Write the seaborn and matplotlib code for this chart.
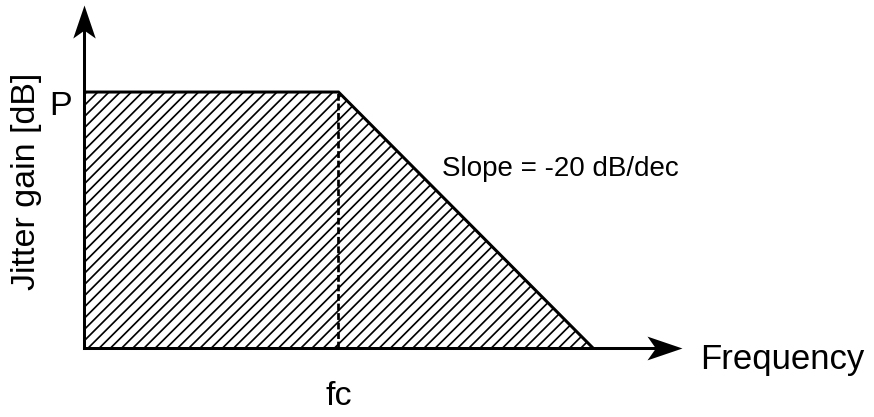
import matplotlib
matplotlib.use("Agg")
import matplotlib.pyplot as plt
import numpy as np
import pandas as pd
import seaborn as sns
from matplotlib.collections import LineCollection
from matplotlib.path import Path
from matplotlib.transforms import Affine2D

# Jitter transfer asymptote: flat gain P up to the corner fc, then -20 dB/decade
log_freq = [0.0, 1.0, 2.0]        # decades above the lowest frequency shown
gain_db = [20.0, 20.0, 0.0]       # asymptotic jitter gain
fc_decade = 1.0
p_db = 20.0

y_label = "Jitter gain [dB]"
x_label = "Frequency"
p_label = "P"
fc_label = "fc"
slope_label = "Slope = -20 dB/dec"

sns.set_theme(style="white")
plt.rcParams["font.family"] = ["Liberation Sans", "DejaVu Sans"]

DPI = 70
fig = plt.figure(figsize=(874 / DPI, 417 / DPI), dpi=DPI)
fig.patch.set_facecolor("white")
ax = fig.add_axes([84 / 874, 69 / 417, 598 / 874, 343 / 417])
x_max, y_max = 2.35, 26.8
ax.set_xlim(0, x_max)
ax.set_ylim(0, y_max)
ax.axis("off")

df = pd.DataFrame({"log_freq": log_freq, "gain_db": gain_db})

# area under the response
area = ax.fill_between(df["log_freq"], df["gain_db"], 0, facecolor="white",
                       linewidth=0, zorder=1)

# 45-degree hatching (in screen space), clipped to the area
origin = ax.transData.transform((0, 0))
unit = ax.transData.transform((1, 1))
sx, sy = unit[0] - origin[0], unit[1] - origin[1]
hatch_step_px = 11.2
run = y_max * sy / sx
starts = np.arange(-run, max(log_freq) + hatch_step_px / sx, hatch_step_px / sx)
hatch = LineCollection([[(s, 0), (s + run, y_max)] for s in starts],
                       colors="black", linewidths=1.75, zorder=2)
ax.add_collection(hatch)
hatch.set_clip_path(area.get_paths()[0], ax.transData)

# response outline
sns.lineplot(data=df, x="log_freq", y="gain_db", sort=False, color="black",
             linewidth=3.1, ax=ax, zorder=3)
ax.lines[-1].set_solid_joinstyle("miter")

# corner frequency marker
ax.plot([fc_decade, fc_decade], [0, p_db], color="black", linewidth=2.8,
        linestyle=(0, (2.5, 1.0)), zorder=2.5)

# axes with arrow heads
ax.plot([0, x_max - 0.08], [0, 0], color="black", linewidth=3.1,
        solid_capstyle="projecting", clip_on=False, zorder=4)
ax.plot([0, 0], [0, y_max - 1.6], color="black", linewidth=3.1,
        solid_capstyle="projecting", clip_on=False, zorder=4)

head = Path([(0, 0), (-1, 0.34), (-0.76, 0), (-1, -0.34), (0, 0)],
            [Path.MOVETO, Path.LINETO, Path.LINETO, Path.LINETO, Path.CLOSEPOLY])
head_up = head.transformed(Affine2D().rotate_deg(90))
ax.plot(x_max, 0, marker=head, markersize=72, color="black",
        markeredgewidth=0, clip_on=False, zorder=5)
ax.plot(0, y_max, marker=head_up, markersize=68, color="black",
        markeredgewidth=0, clip_on=False, zorder=5)

big = 35
ax.annotate(p_label, xy=(0, p_db), xytext=(-12, -23), textcoords="offset pixels",
            ha="right", va="baseline", fontsize=big, color="black")
ax.annotate(fc_label, xy=(fc_decade, 0), xytext=(0, -57), textcoords="offset pixels",
            ha="center", va="baseline", fontsize=big, color="black",
            annotation_clip=False)
ax.annotate(x_label, xy=(x_max, 0), xytext=(18, -21), textcoords="offset pixels",
            ha="left", va="baseline", fontsize=big + 0.8, color="black",
            annotation_clip=False)
ax.text(1.405, 13.45, slope_label, ha="left", va="baseline", fontsize=28.5,
        color="black")

fig.text(35 / 874, 1 - 181 / 417, y_label, rotation=90, rotation_mode="anchor",
         ha="center", va="baseline", fontsize=big, color="black")

fig.savefig("out.png", dpi=DPI)
